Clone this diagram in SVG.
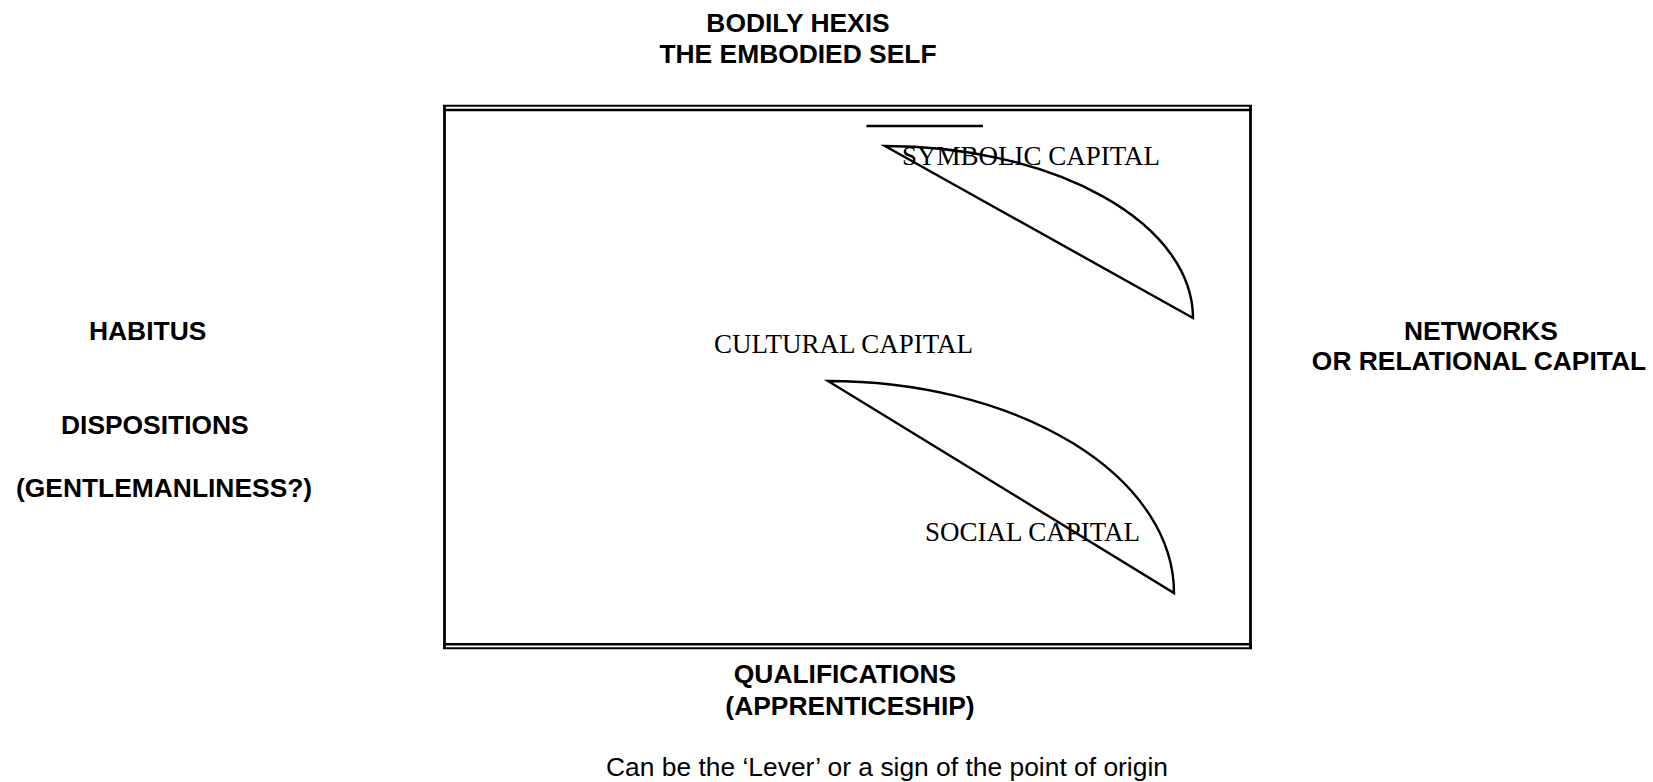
<svg xmlns="http://www.w3.org/2000/svg" width="1653" height="782" viewBox="0 0 1653 782">
<style>
.lbl{font-family:"Liberation Sans",Arial,sans-serif;font-weight:bold;font-size:26.4px;fill:#000}
.note{font-family:"Liberation Sans",Arial,sans-serif;font-size:26.4px;fill:#000}
.cap{font-family:"Liberation Serif","Times New Roman",serif;font-size:27px;fill:#000}
.ln{stroke:#000;fill:none}
.seg{stroke:#000;stroke-width:2.4;fill:none;stroke-linejoin:miter}
</style>
<rect width="1653" height="782" fill="#fff"/>
<g id="frame">
<line class="ln" x1="443" y1="105.8" x2="1252" y2="105.8" stroke-width="1.9"/>
<line class="ln" x1="443" y1="110" x2="1252" y2="110" stroke-width="2.6"/>
<line class="ln" x1="443" y1="644.3" x2="1252" y2="644.3" stroke-width="2.6"/>
<line class="ln" x1="443" y1="648.3" x2="1252" y2="648.3" stroke-width="1.9"/>
<line class="ln" x1="444.5" y1="105" x2="444.5" y2="649" stroke-width="2.8"/>
<line class="ln" x1="1250.5" y1="105" x2="1250.5" y2="649" stroke-width="2.8"/>
</g>
<g id="connectors">
<line class="ln" x1="866.5" y1="126" x2="983" y2="126" stroke-width="2.6"/>
</g>
<g id="symbolic-capital">
<path class="seg" d="M885,146 A308,172 0 0 1 1193,318 Z"/>
<text class="cap" x="902" y="165">SYMBOLIC CAPITAL</text>
</g>
<g id="cultural-capital">
<text class="cap" x="714" y="353">CULTURAL CAPITAL</text>
</g>
<g id="social-capital">
<path class="seg" d="M828,381 A346,212 0 0 1 1174,593 Z"/>
<text class="cap" x="925" y="541">SOCIAL CAPITAL</text>
</g>
<g id="bodily-hexis">
<text class="lbl" x="798" y="32" text-anchor="middle">BODILY HEXIS</text>
<text class="lbl" x="798" y="63" text-anchor="middle">THE EMBODIED SELF</text>
</g>
<g id="habitus">
<text class="lbl" x="89" y="340">HABITUS</text>
<text class="lbl" x="61" y="434">DISPOSITIONS</text>
<text class="lbl" x="16" y="497">(GENTLEMANLINESS?)</text>
</g>
<g id="networks">
<text class="lbl" x="1481" y="340" text-anchor="middle">NETWORKS</text>
<text class="lbl" x="1479" y="370" text-anchor="middle">OR RELATIONAL CAPITAL</text>
</g>
<g id="qualifications">
<text class="lbl" x="845" y="683" text-anchor="middle">QUALIFICATIONS</text>
<text class="lbl" x="850" y="715" text-anchor="middle">(APPRENTICESHIP)</text>
</g>
<g id="note">
<text class="note" x="887" y="776" text-anchor="middle">Can be the ‘Lever’ or a sign of the point of origin</text>
</g>
</svg>
